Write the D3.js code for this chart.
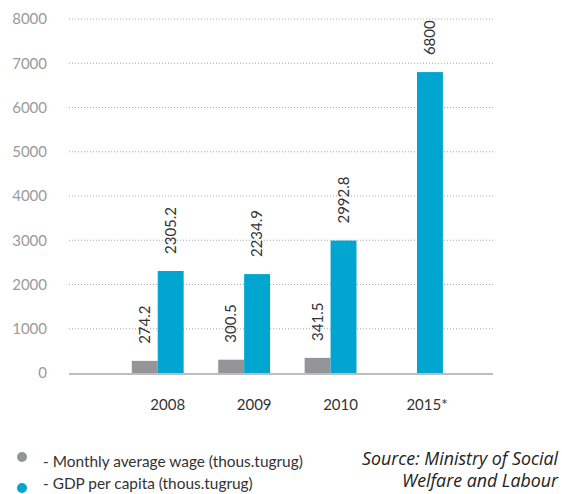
<!DOCTYPE html>
<html>
<head>
<meta charset="utf-8">
<script src="https://cdn.jsdelivr.net/npm/d3@7"></script>
<style>
  html, body { margin: 0; padding: 0; background: #fff; }
  svg { display: block; }
</style>
</head>
<body>
<svg id="chart" width="562" height="494"></svg>
<script>
const categories = ["2008", "2009", "2010", "2015*"];
const wageValues = [274.2, 300.5, 341.5, null];
const gdpValues = [2305.2, 2234.9, 2992.8, 6800];
const yTicks = [0, 1000, 2000, 3000, 4000, 5000, 6000, 7000, 8000];
const seriesNames = ["- Monthly average wage (thous.tugrug)", "- GDP per capita (thous.tugrug)"];
const seriesKeys = ["wage", "gdp"];
const seriesColors = ["#939598", "#00a5d0"];
const sourceLines = ["Source: Ministry of Social", "Welfare and Labour"];

const svg = d3.select("#chart");
const font = "Lato, 'Open Sans', sans-serif";

const plotLeft = 69, plotRight = 493;
const y = d3.scaleLinear().domain([0, 8000]).range([373, 19]);
const x0 = d3.scaleBand().domain(categories).range([114.5, 460.2]).paddingInner(0.4).paddingOuter(0.2);
const x1 = d3.scaleBand().domain(seriesKeys).range([0, x0.bandwidth()]);
const color = d3.scaleOrdinal().domain(seriesKeys).range(seriesColors);

// gridlines
svg.append("g").selectAll("line").data(yTicks.filter(d => d > 0)).join("line")
  .attr("x1", plotLeft).attr("x2", plotRight)
  .attr("y1", d => y(d)).attr("y2", d => y(d))
  .attr("stroke", "#a8a8a8").attr("stroke-width", 1).attr("stroke-dasharray", "1,2");

// y axis labels
const yAxis = d3.axisLeft(y).tickValues(yTicks).tickSize(0).tickPadding(0).tickFormat(d3.format("d"));
const yg = svg.append("g").attr("transform", "translate(47,0)").call(yAxis);
yg.select(".domain").remove();
yg.selectAll("text").attr("font-family", font).attr("font-size", 15).attr("fill", "#9a9a9a");

// data rows
const rows = categories.map((c, i) => ({ cat: c, wage: wageValues[i], gdp: gdpValues[i] }));

const groups = svg.append("g").selectAll("g").data(rows).join("g")
  .attr("transform", d => `translate(${x0(d.cat)},0)`);

groups.selectAll("rect").data(d => seriesKeys.filter(k => d[k] != null).map(k => ({ key: k, value: d[k] })))
  .join("rect")
  .attr("x", d => x1(d.key))
  .attr("width", x1.bandwidth())
  .attr("y", d => y(d.value))
  .attr("height", d => y(0) - y(d.value))
  .attr("fill", d => color(d.key));

groups.selectAll("text.val").data(d => seriesKeys.filter(k => d[k] != null).map(k => ({ key: k, value: d[k] })))
  .join("text").attr("class", "val")
  .attr("transform", d => `translate(${x1(d.key) + x1.bandwidth() / 2},${y(d.value) - 17}) rotate(-90)`)
  .attr("dy", "0.35em")
  .attr("text-anchor", "start")
  .attr("font-family", font).attr("font-size", 15).attr("fill", "#333")
  .text(d => d3.format("")(d.value));

// baseline
svg.append("line").attr("x1", plotLeft).attr("x2", plotRight)
  .attr("y1", y(0) + 1).attr("y2", y(0) + 1)
  .attr("stroke", "#bdbdbd").attr("stroke-width", 2);

// category labels
const xAxis = d3.axisBottom(x0).tickSize(0).tickPadding(0);
const xg = svg.append("g").attr("transform", "translate(10,399)").call(xAxis);
xg.select(".domain").remove();
xg.selectAll("text").attr("font-family", font).attr("font-size", 15).attr("fill", "#333").attr("dy", "0.71em");

// legend
const legend = svg.append("g");
const legendTextY = [467, 489];
const legendDotY = [457, 488];
seriesKeys.forEach((k, i) => {
  legend.append("circle").attr("cx", 22).attr("cy", legendDotY[i]).attr("r", 5).attr("fill", color(k));
  legend.append("text").attr("x", 43).attr("y", legendTextY[i])
    .attr("font-family", font).attr("font-size", 15.4).attr("fill", "#333")
    .text(seriesNames[i]);
});

// source
sourceLines.forEach((t, i) => {
  svg.append("text").attr("x", 558).attr("y", 465 + i * 22)
    .attr("text-anchor", "end")
    .attr("font-family", "'Open Sans', sans-serif").attr("font-style", "italic")
    .attr("font-size", 17.8).attr("fill", "#222")
    .text(t);
});
</script>
</body>
</html>
